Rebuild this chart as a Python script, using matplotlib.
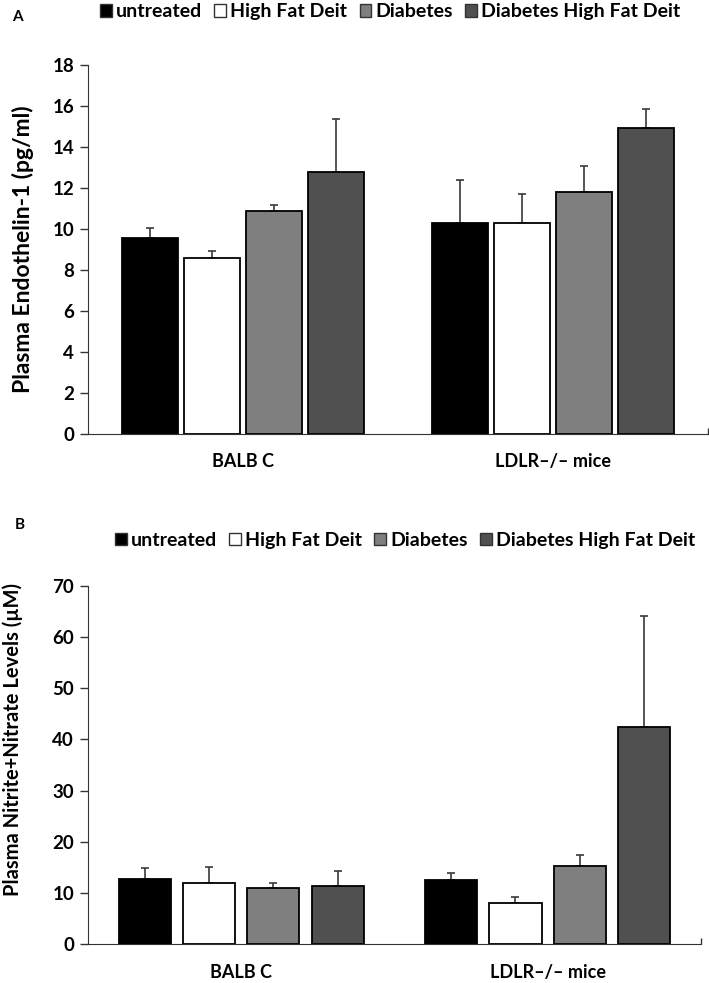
import numpy as np
import matplotlib.pyplot as plt
from matplotlib.patches import Patch

plt.rcParams['font.family'] = ['Lato', 'DejaVu Sans']
plt.rcParams['font.weight'] = 'bold'

groups = ['BALB C', 'LDLR\u2013/\u2013 mice']
series = ['untreated', 'High Fat Deit', 'Diabetes', 'Diabetes High Fat Deit']
colors = ['#000000', '#ffffff', '#7f7f7f', '#505050']

# panel A: plasma endothelin-1
et1_mean = [[9.55, 10.28], [8.59, 10.31], [10.87, 11.79], [12.80, 14.91]]
et1_err = [[0.50, 2.11], [0.36, 1.42], [0.30, 1.30], [2.55, 0.96]]

# panel B: nitrite + nitrate
nox_mean = [[12.7, 12.6], [12.0, 8.1], [11.05, 15.35], [11.4, 42.4]]
nox_err = [[2.1, 1.4], [3.0, 1.2], [0.9, 2.15], [2.85, 21.75]]


def draw_panel(ax, means, errs, step, width, ymax, ystep, ylabel, lsize, lpos):
    x = np.arange(len(groups))
    for i, (m, e) in enumerate(zip(means, errs)):
        pos = x + (i - 1.5) * step
        ax.bar(pos, m, width, color=colors[i], edgecolor='black', linewidth=1.3, zorder=2)
        ax.errorbar(pos, m, yerr=[np.zeros(len(m)), e], fmt='none', ecolor='#3a3a3a',
                    elinewidth=1.2, capsize=2.8, capthick=1.2, zorder=1)
    ax.set_xlim(-0.5, 1.5)
    ax.set_ylim(0, ymax)
    ax.set_yticks(np.arange(0, ymax + 1, ystep))
    ax.set_xticks(x)
    ax.set_xticklabels(groups, fontsize=13, fontweight='bold')
    ax.set_xticks([0, 1, 1.5], minor=True)
    ax.tick_params(axis='x', which='major', length=0, pad=14)
    ax.tick_params(axis='x', which='minor', direction='in', length=4, width=1, color='#333333')
    ax.tick_params(axis='y', direction='out', length=6, width=1, color='#333333', labelsize=13.5, pad=4)
    for lbl in ax.get_yticklabels():
        lbl.set_fontweight('bold')
    ax.spines['top'].set_visible(False)
    ax.spines['right'].set_visible(False)
    ax.spines['left'].set_color('#333333')
    ax.spines['bottom'].set_color('#333333')
    ax.set_ylabel(ylabel, fontsize=lsize, fontweight='bold')
    ax.yaxis.set_label_coords(*lpos)


fig = plt.figure(figsize=(7.09, 9.83), dpi=100)

ax1 = fig.add_axes([0.124, 0.5585, 0.8745, 0.3754])
draw_panel(ax1, et1_mean, et1_err, 0.2, 0.18, 18, 2, 'Plasma Endothelin-1 (pg/ml)', 16.5, (-0.087, 0.5))

ax2 = fig.add_axes([0.124, 0.0394, 0.8646, 0.3648])
draw_panel(ax2, nox_mean, nox_err, 0.21, 0.17, 70, 10, 'Plasma Nitrite+Nitrate Levels (\u00b5M)', 14.5,
           (-0.106, 0.57))

handles = [Patch(facecolor=c, edgecolor='#333333', linewidth=1) for c in colors]
for x0, y0 in [(0.141, 0.988), (0.162, 0.4506)]:
    fig.legend(handles, series, loc='center left', bbox_to_anchor=(x0, y0), ncol=4, frameon=False,
               handlelength=0.6, handleheight=0.6, handletextpad=0.2, borderpad=0,
               columnspacing=0.65, borderaxespad=0, prop={'weight': 'bold', 'size': 14})

fig.text(0.017, 0.983, 'A', fontsize=11, fontweight='bold', va='center')
fig.text(0.021, 0.466, 'B', fontsize=11, fontweight='bold', va='center')

fig.savefig('out.png', dpi=100)
